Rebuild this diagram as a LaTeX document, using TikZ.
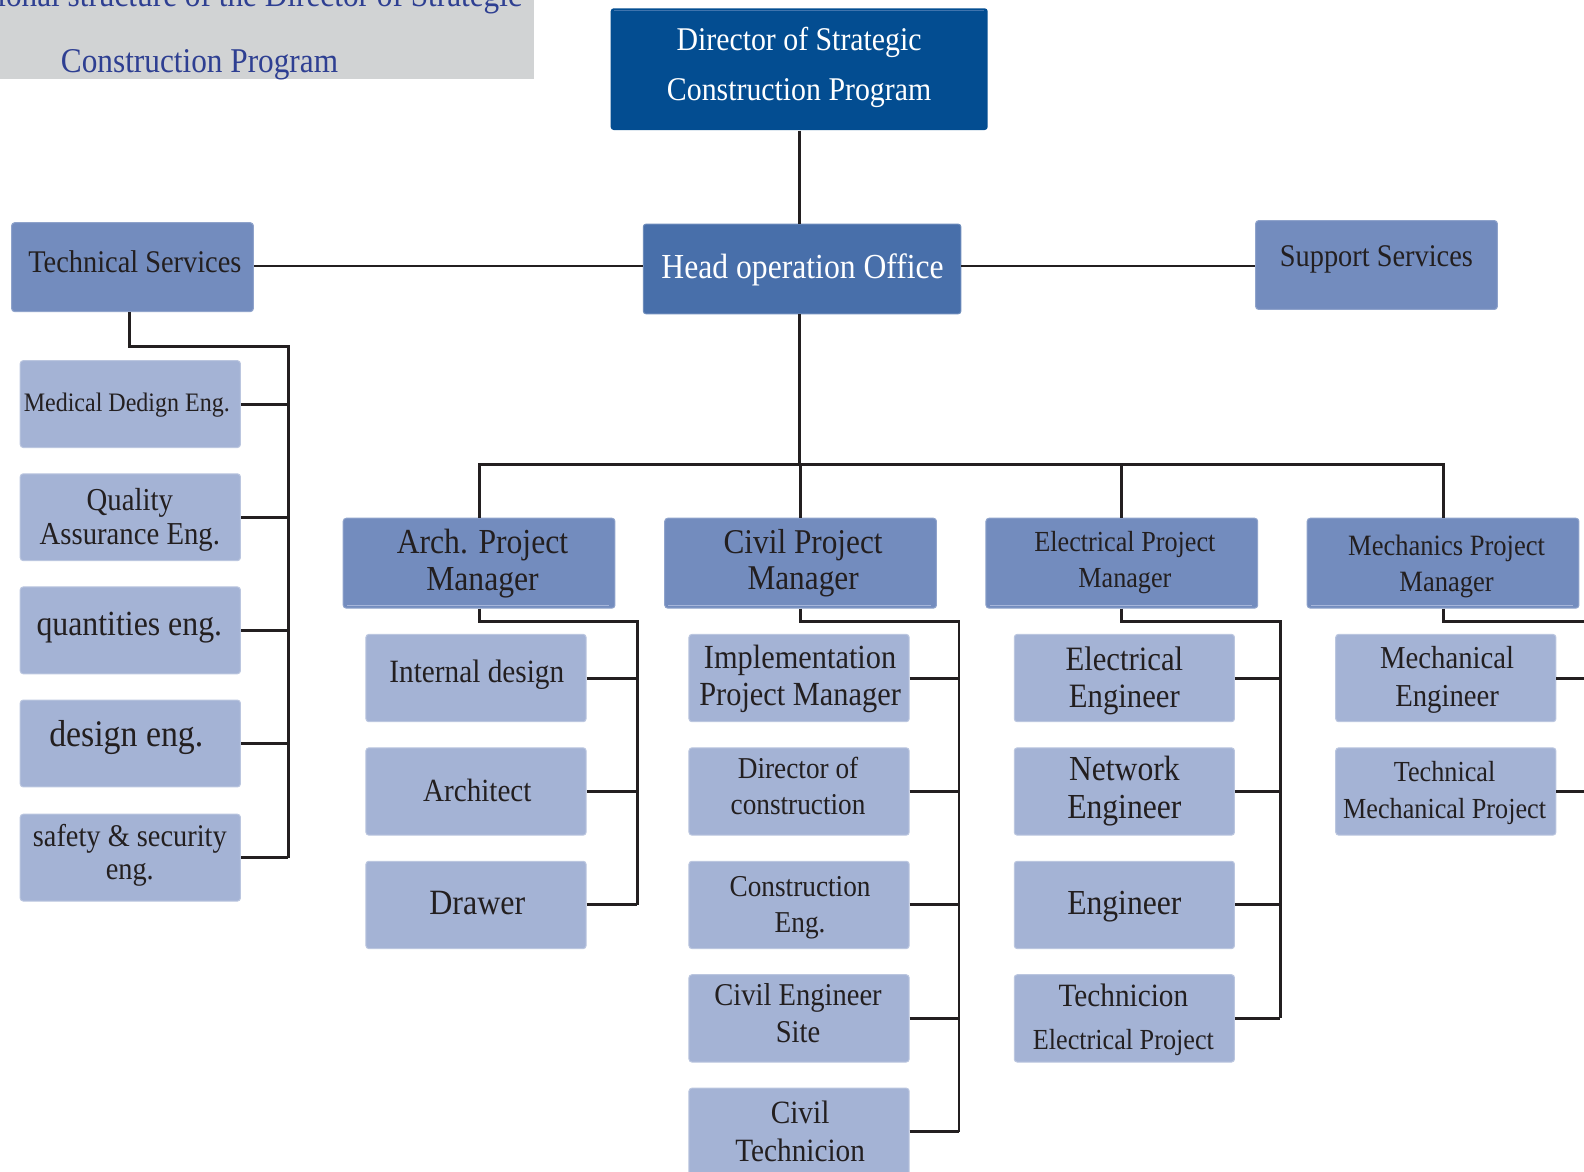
\documentclass[tikz,border=0pt]{standalone}
\usepackage{fontspec}
\setmainfont{Liberation Serif}[FakeStretch=0.9]
\definecolor{dirblue}{HTML}{034D91}
\definecolor{dirhl}{HTML}{3F74AE}
\definecolor{headblue}{HTML}{486FAA}
\definecolor{midblue}{HTML}{738CBE}
\definecolor{midhl}{HTML}{A6B6DA}
\definecolor{lightblue}{HTML}{A4B3D5}
\definecolor{ink}{HTML}{231F20}
\definecolor{titlegray}{HTML}{D1D3D4}
\definecolor{titleblue}{HTML}{2E3F92}
\newcommand\fsz[2]{\fontsize{#1pt}{#2pt}\selectfont}
\newcommand\twoln[2]{\begin{tabular}[t]{@{}c@{}}#1\\#2\end{tabular}}
\begin{document}
\begin{tikzpicture}[x=0.5pt,y=-0.5pt,
  obox/.style={rounded corners=1.5pt, inner sep=0pt, line width=0.5pt},
  subbox/.style={obox, fill=lightblue, draw=lightblue!75!white, minimum width=109pt, minimum height=43.25pt},
  leftbox/.style={obox, fill=lightblue, draw=lightblue!75!white, minimum width=109pt, minimum height=43pt},
  mgrbox/.style={obox, fill=midblue, draw=midblue!80!white, minimum width=134.5pt, minimum height=44.5pt},
  svcbox/.style={obox, fill=midblue, draw=midblue!80!white, minimum width=119.65pt, minimum height=44pt},
  txt/.style={inner sep=0pt, anchor=base, text=ink, yshift=-1pt},
  wtxt/.style={txt, text=white},
  conn/.style={draw=ink, line width=1.45pt},
  hlline/.style={draw=midhl, line width=0.6pt}]
\useasboundingbox (0,0) rectangle (1568,1160);
\clip (0,0) rectangle (1568,1160);

% title
\fill[titlegray] (0,0) rectangle (529,78);
\node[txt, text=titleblue, anchor=base east, font=\fsz{17.2}{20}] (title1) at (517,4.6) {Organizational structure of the Director of Strategic};
\node[txt, text=titleblue, font=\fsz{17.2}{20}] (title2) at (197.5,70) {Construction Program};

% top level
\node[obox, fill=dirblue, minimum width=186.6pt, minimum height=60.25pt] (dir) at (791.1,68.45) {};
\node[wtxt, font=\fsz{16.4}{25}] (dirt) at (791,47.5) {\twoln{Director of Strategic}{Construction Program}};
\draw[draw=dirhl, line width=0.6pt] ([xshift=2pt,yshift=-1.4pt]dir.north west) -- ([xshift=-2pt,yshift=-1.4pt]dir.north east);

\node[obox, fill=headblue, draw=headblue!80!white, minimum width=157.25pt, minimum height=44.5pt] (head) at (794,266.25) {};
\node[wtxt, font=\fsz{17.4}{20}] (headt) at (794.5,273.2) {Head operation Office};

\node[svcbox] (ts) at (131.15,264.45) {};
\node[txt, font=\fsz{15.6}{18}] (tst) at (133.5,267.3) {Technical Services};
\node[svcbox] (sup) at (1362.6,262.35) {};
\node[txt, font=\fsz{15.6}{18}] (supt) at (1362.5,262) {Support Services};

% managers
\node[mgrbox] (arch) at (474.25,557.5) {};
\node[txt, font=\fsz{17.4}{18.15}] (archt) at (477.6,546) {\twoln{Arch. Project}{Manager}};
\node[mgrbox] (civil) at (792.5,557.5) {};
\node[txt, font=\fsz{17.2}{17.85}] (civilt) at (795,546.1) {\twoln{Civil Project}{Manager}};
\node[mgrbox] (elec) at (1110.5,557.5) {};
\node[txt, font=\fsz{14.4}{17.95}] (elect) at (1113.5,543.6) {\twoln{Electrical Project}{Manager}};
\node[mgrbox] (mech) at (1428.5,557.5) {};
\node[txt, font=\fsz{14.6}{18.15}] (mecht) at (1432,547.7) {\twoln{Mechanics Project}{Manager}};
\foreach \n in {arch,civil,elec,mech}
  \draw[hlline] ([xshift=2pt,yshift=1.65pt]\n.south west) -- ([xshift=-3pt,yshift=1.65pt]\n.south east);

% left column
\node[leftbox] (l1) at (129,400) {};
\node[txt, font=\fsz{13.2}{16}] (l1t) at (125.5,405.4) {Medical Dedign Eng.};
\node[leftbox] (l2) at (129,512) {};
\node[txt, font=\fsz{15.8}{17}] (l2t) at (128.5,503) {\twoln{Quality}{Assurance Eng.}};
\node[leftbox] (l3) at (129,624) {};
\node[txt, font=\fsz{17.5}{20}] (l3t) at (128,627) {quantities eng.};
\node[leftbox] (l4) at (129,736) {};
\node[txt, font=\fsz{18.6}{20}] (l4t) at (125,737) {design eng.};
\node[leftbox] (l5) at (129,849) {};
\node[txt, font=\fsz{15.6}{16.75}] (l5t) at (128.5,835.5) {\twoln{safety \& security}{eng.}};

% arch column
\node[subbox] (a1) at (471.2,671.2) {};
\node[txt, font=\fsz{16.1}{18}] (a1t) at (472,673.7) {Internal design};
\node[subbox] (a2) at (471.2,783.5) {};
\node[txt, font=\fsz{16}{18}] (a2t) at (472.5,791.4) {Architect};
\node[subbox] (a3) at (471.2,895.8) {};
\node[txt, font=\fsz{17.6}{18}] (a3t) at (472.5,903.7) {Drawer};

% civil column
\node[subbox] (c1) at (791,671.2) {};
\node[txt, font=\fsz{16.7}{18.35}] (c1t) at (792,660) {\twoln{Implementation}{Project Manager}};
\node[subbox] (c2) at (791,783.5) {};
\node[txt, font=\fsz{15}{18}] (c2t) at (790,768.6) {\twoln{Director of}{construction}};
\node[subbox] (c3) at (791,895.8) {};
\node[txt, font=\fsz{15}{18.25}] (c3t) at (792,885) {\twoln{Construction}{Eng.}};
\node[subbox] (c4) at (791,1008.1) {};
\node[txt, font=\fsz{15.7}{18.5}] (c4t) at (790,993) {\twoln{Civil Engineer}{Site}};
\node[subbox] (c5) at (791,1120.4) {};
\node[txt, font=\fsz{16.1}{18.65}] (c5t) at (792,1110.3) {\twoln{Civil}{Technicion}};

% electrical column
\node[subbox] (e1) at (1113,671.2) {};
\node[txt, font=\fsz{16.9}{18.55}] (e1t) at (1113,661.5) {\twoln{Electrical}{Engineer}};
\node[subbox] (e2) at (1113,783.5) {};
\node[txt, font=\fsz{17.4}{18.75}] (e2t) at (1113,771) {\twoln{Network}{Engineer}};
\node[subbox] (e3) at (1113,895.8) {};
\node[txt, font=\fsz{17.4}{18}] (e3t) at (1113,903.2) {Engineer};
\node[subbox] (e4) at (1113,1008.1) {};
\node[txt, font=\fsz{16.1}{21}] (e4t) at (1112,994.4) {\twoln{Technicion}{\fsz{14.4}{17}Electrical Project}};

% mechanics column
\node[subbox] (m1) at (1431.2,671.2) {};
\node[txt, font=\fsz{15.8}{18.8}] (m1t) at (1432.5,659.3) {\twoln{Mechanical}{Engineer}};
\node[subbox] (m2) at (1431.2,783.5) {};
\node[txt, font=\fsz{14.4}{18.2}] (m2t) at (1430,771.4) {\twoln{Technical}{Mechanical Project}};

% connectors: top
\coordinate (ly) at (0,263.3);
\coordinate (hx) at (791.1,459.5);
\draw[conn] (dir.south) -- (dir.south |- head.north);
\draw[conn] (dir.south |- head.south) -- (hx);
\draw[conn] (ts.east |- ly) -- (head.west |- ly);
\draw[conn] (head.east |- ly) -- (sup.west |- ly);
\draw[conn] (arch.north) |- (mech.north |- hx) -- (mech.north);
\draw[conn] (civil.north) -- (civil.north |- hx);
\draw[conn] (elec.north) -- (elec.north |- hx);

% left column connectors
\coordinate (tsb) at (285.4,343.2);
\draw[conn] ([xshift=-1.5pt]ts.south) |- (tsb) -- (tsb |- l5.east);
\foreach \n in {l1,l2,l3,l4,l5} \draw[conn] (\n.east) -- (\n.east -| tsb);

% arch
\coordinate (ab) at (630.9,615.4);
\draw[conn] (arch.south) |- (ab) -- (ab |- a3.east);
\foreach \n in {a1,a2,a3} \draw[conn] (\n.east) -- (\n.east -| ab);

% civil
\coordinate (cb) at (949.3,615.4);
\draw[conn] (civil.south) |- (cb) -- (cb |- c5.east);
\foreach \n in {c1,c2,c3,c4,c5} \draw[conn] (\n.east) -- (\n.east -| cb);

% electrical
\coordinate (eb) at (1267.3,615.4);
\draw[conn] (elec.south) |- (eb) -- (eb |- e4.east);
\foreach \n in {e1,e2,e3,e4} \draw[conn] (\n.east) -- (\n.east -| eb);

% mechanics
\coordinate (mb) at (1600,615.4);
\draw[conn] (mech.south) |- (mb);
\foreach \n in {m1,m2} \draw[conn] (\n.east) -- (\n.east -| mb);
\end{tikzpicture}
\end{document}
